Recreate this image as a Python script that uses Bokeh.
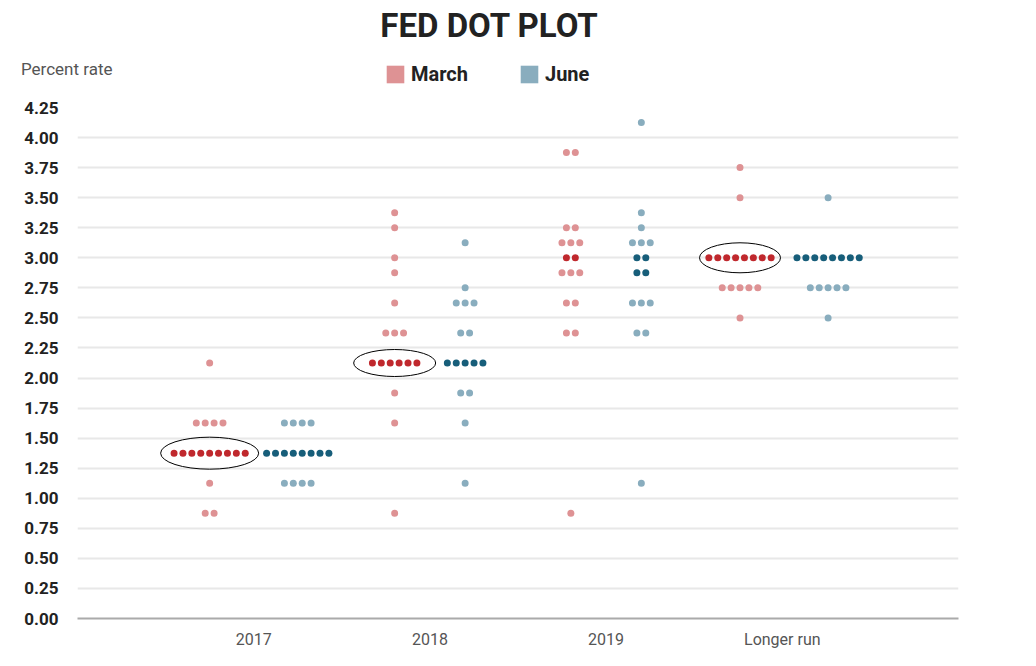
from bokeh.plotting import figure
from bokeh.layouts import column
from bokeh.models import Range1d, FixedTicker, Label, Legend, LegendItem
from bokeh.embed import file_html
from bokeh.resources import INLINE

# ---------------- data ----------------
categories = ["2017", "2018", "2019", "Longer run"]

march_rates = [
    [2.125, 1.625, 1.375, 1.125, 0.875],
    [3.375, 3.25, 3.0, 2.875, 2.625, 2.375, 2.125, 1.875, 1.625, 0.875],
    [3.875, 3.25, 3.125, 3.0, 2.875, 2.625, 2.375, 0.875],
    [3.75, 3.5, 3.0, 2.75, 2.5],
]
march_counts = [
    [1, 4, 9, 1, 2],
    [1, 1, 1, 1, 1, 3, 6, 1, 1, 1],
    [2, 2, 3, 2, 3, 2, 2, 1],
    [1, 1, 8, 5, 1],
]
june_rates = [
    [1.625, 1.375, 1.125],
    [3.125, 2.75, 2.625, 2.375, 2.125, 1.875, 1.625, 1.125],
    [4.125, 3.375, 3.25, 3.125, 3.0, 2.875, 2.625, 2.375, 1.125],
    [3.5, 3.0, 2.75, 2.5],
]
june_counts = [
    [4, 8, 4],
    [1, 1, 3, 2, 5, 2, 1, 1],
    [1, 1, 1, 3, 2, 2, 3, 2, 1],
    [1, 8, 5, 1],
]

y_ticks = [0.0, 0.25, 0.5, 0.75, 1.0, 1.25, 1.5, 1.75, 2.0, 2.25,
           2.5, 2.75, 3.0, 3.25, 3.5, 3.75, 4.0, 4.25]
y_tick_labels = ["0.00", "0.25", "0.50", "0.75", "1.00", "1.25", "1.50", "1.75",
                 "2.00", "2.25", "2.50", "2.75", "3.00", "3.25", "3.50", "3.75",
                 "4.00", "4.25"]

series_names = ["March", "June"]
title_text = "FED DOT PLOT"
y_caption = "Percent rate"

# ---------------- style ----------------
MARCH_LIGHT, MARCH_DARK = "#de9294", "#c0282d"
JUNE_LIGHT, JUNE_DARK = "#89adbe", "#175e7a"
FONT = "Roboto"
W = 1030
LEFT, RIGHT = 77, 72
HEADER_H = 95

march_offset = [-0.25, -0.2, -0.2, -0.24]
june_offset = [0.25, 0.2, 0.2, 0.26]
step = 0.0505  # horizontal spacing of dots in a row (data units)

# annotated March medians: category index, ellipse width/height in px
ellipse_cats = [0, 1, 3]
ellipse_w = [98, 82, 81]
ellipse_h = [32, 27, 30]


def medians(rates, counts):
    vals = sorted(r for r, c in zip(rates, counts) for _ in range(c))
    n = len(vals)
    return vals[(n - 1) // 2], vals[n // 2]


def build(rates_all, counts_all, offsets, light, dark):
    xs, ys, cs = [], [], []
    centers = []
    for ci in range(len(categories)):
        rates, counts = rates_all[ci], counts_all[ci]
        lo, hi = medians(rates, counts)
        cx = ci + 1 + offsets[ci]
        centers.append((cx, lo))
        for r, c in zip(rates, counts):
            for k in range(c):
                xs.append(cx + (k - (c - 1) / 2) * step)
                ys.append(r)
                cs.append(dark if lo <= r <= hi else light)
    return xs, ys, cs, centers


# ---------------- header (title, caption, legend) ----------------
# header coordinates equal page pixels (y grows downward)
h = figure(width=W, height=HEADER_H, output_backend="svg", toolbar_location=None,
           x_range=Range1d(LEFT, W - RIGHT), y_range=Range1d(HEADER_H, 0),
           x_axis_type=None,
           min_border_left=LEFT, min_border_right=RIGHT,
           min_border_top=0, min_border_bottom=0)
h.outline_line_color = None
h.xgrid.grid_line_color = None
h.ygrid.grid_line_color = None

h.yaxis.ticker = FixedTicker(ticks=[68])
h.yaxis.major_label_overrides = {68: y_caption}
h.yaxis.axis_line_color = None
h.yaxis.major_tick_line_color = None
h.yaxis.minor_tick_line_color = None
h.yaxis.major_label_text_font = FONT
h.yaxis.major_label_text_font_size = "17px"
h.yaxis.major_label_text_color = "#555555"
h.yaxis.major_label_standoff = -41

h.add_layout(Label(x=489, y=25, text=title_text, text_font=FONT,
                   text_font_style="bold", text_font_size="33px",
                   text_color="#222222", text_align="center", text_baseline="middle"))

nan = float("nan")
r_m = h.quad(left=[nan], right=[nan], top=[nan], bottom=[nan],
             fill_color=MARCH_LIGHT, line_alpha=0)
r_j = h.quad(left=[nan], right=[nan], top=[nan], bottom=[nan],
             fill_color=JUNE_LIGHT, line_alpha=0)
legend = Legend(items=[LegendItem(label=series_names[0], renderers=[r_m]),
                       LegendItem(label=series_names[1], renderers=[r_j])],
                location=(307, 9), orientation="horizontal",
                glyph_width=22, glyph_height=22, label_standoff=5, spacing=50,
                padding=0, margin=0, border_line_color=None,
                background_fill_alpha=0, label_height=22,
                label_text_font=FONT, label_text_font_size="20px",
                label_text_font_style="bold", label_text_color="#222222")
h.add_layout(legend)

# ---------------- main dot plot ----------------
p = figure(width=W, height=565, output_backend="svg", toolbar_location=None,
           x_range=Range1d(0, 5), y_range=Range1d(0, 4.25),
           min_border_left=LEFT, min_border_right=RIGHT, min_border_top=12,
           min_border_bottom=42)
p.outline_line_color = None

mx, my, mc, mcenters = build(march_rates, march_counts, march_offset, MARCH_LIGHT, MARCH_DARK)
jx, jy, jc, _ = build(june_rates, june_counts, june_offset, JUNE_LIGHT, JUNE_DARK)

p.scatter(x=mx, y=my, size=7, fill_color=mc, line_color=None)
p.scatter(x=jx, y=jy, size=7, fill_color=jc, line_color=None)

p.ellipse(x=[mcenters[i][0] for i in ellipse_cats],
          y=[mcenters[i][1] for i in ellipse_cats],
          width=ellipse_w, height=ellipse_h,
          width_units="screen", height_units="screen",
          fill_alpha=0, line_color="black", line_width=1)

p.yaxis.ticker = FixedTicker(ticks=y_ticks)
p.yaxis.major_label_overrides = {t: l for t, l in zip(y_ticks, y_tick_labels)}
p.yaxis.axis_line_color = None
p.yaxis.major_tick_line_color = None
p.yaxis.minor_tick_line_color = None
p.yaxis.major_label_text_font = FONT
p.yaxis.major_label_text_font_style = "bold"
p.yaxis.major_label_text_font_size = "17px"
p.yaxis.major_label_text_color = "#222222"
p.yaxis.major_label_standoff = 13

p.xaxis.ticker = FixedTicker(ticks=[1, 2, 3, 4])
p.xaxis.major_label_overrides = {i + 1: c for i, c in enumerate(categories)}
p.xaxis.axis_line_color = "#aaaaaa"
p.xaxis.axis_line_width = 2
p.xaxis.major_tick_line_color = None
p.xaxis.minor_tick_line_color = None
p.xaxis.major_label_text_font = FONT
p.xaxis.major_label_text_font_size = "16px"
p.xaxis.major_label_text_color = "#555555"
p.xaxis.major_label_standoff = 5

p.xgrid.grid_line_color = None
p.ygrid.grid_line_color = "#e8e8e8"
p.ygrid.grid_line_width = 2

layout = column(h, p, spacing=0)
open("out.html", "w").write(file_html(layout, INLINE))
